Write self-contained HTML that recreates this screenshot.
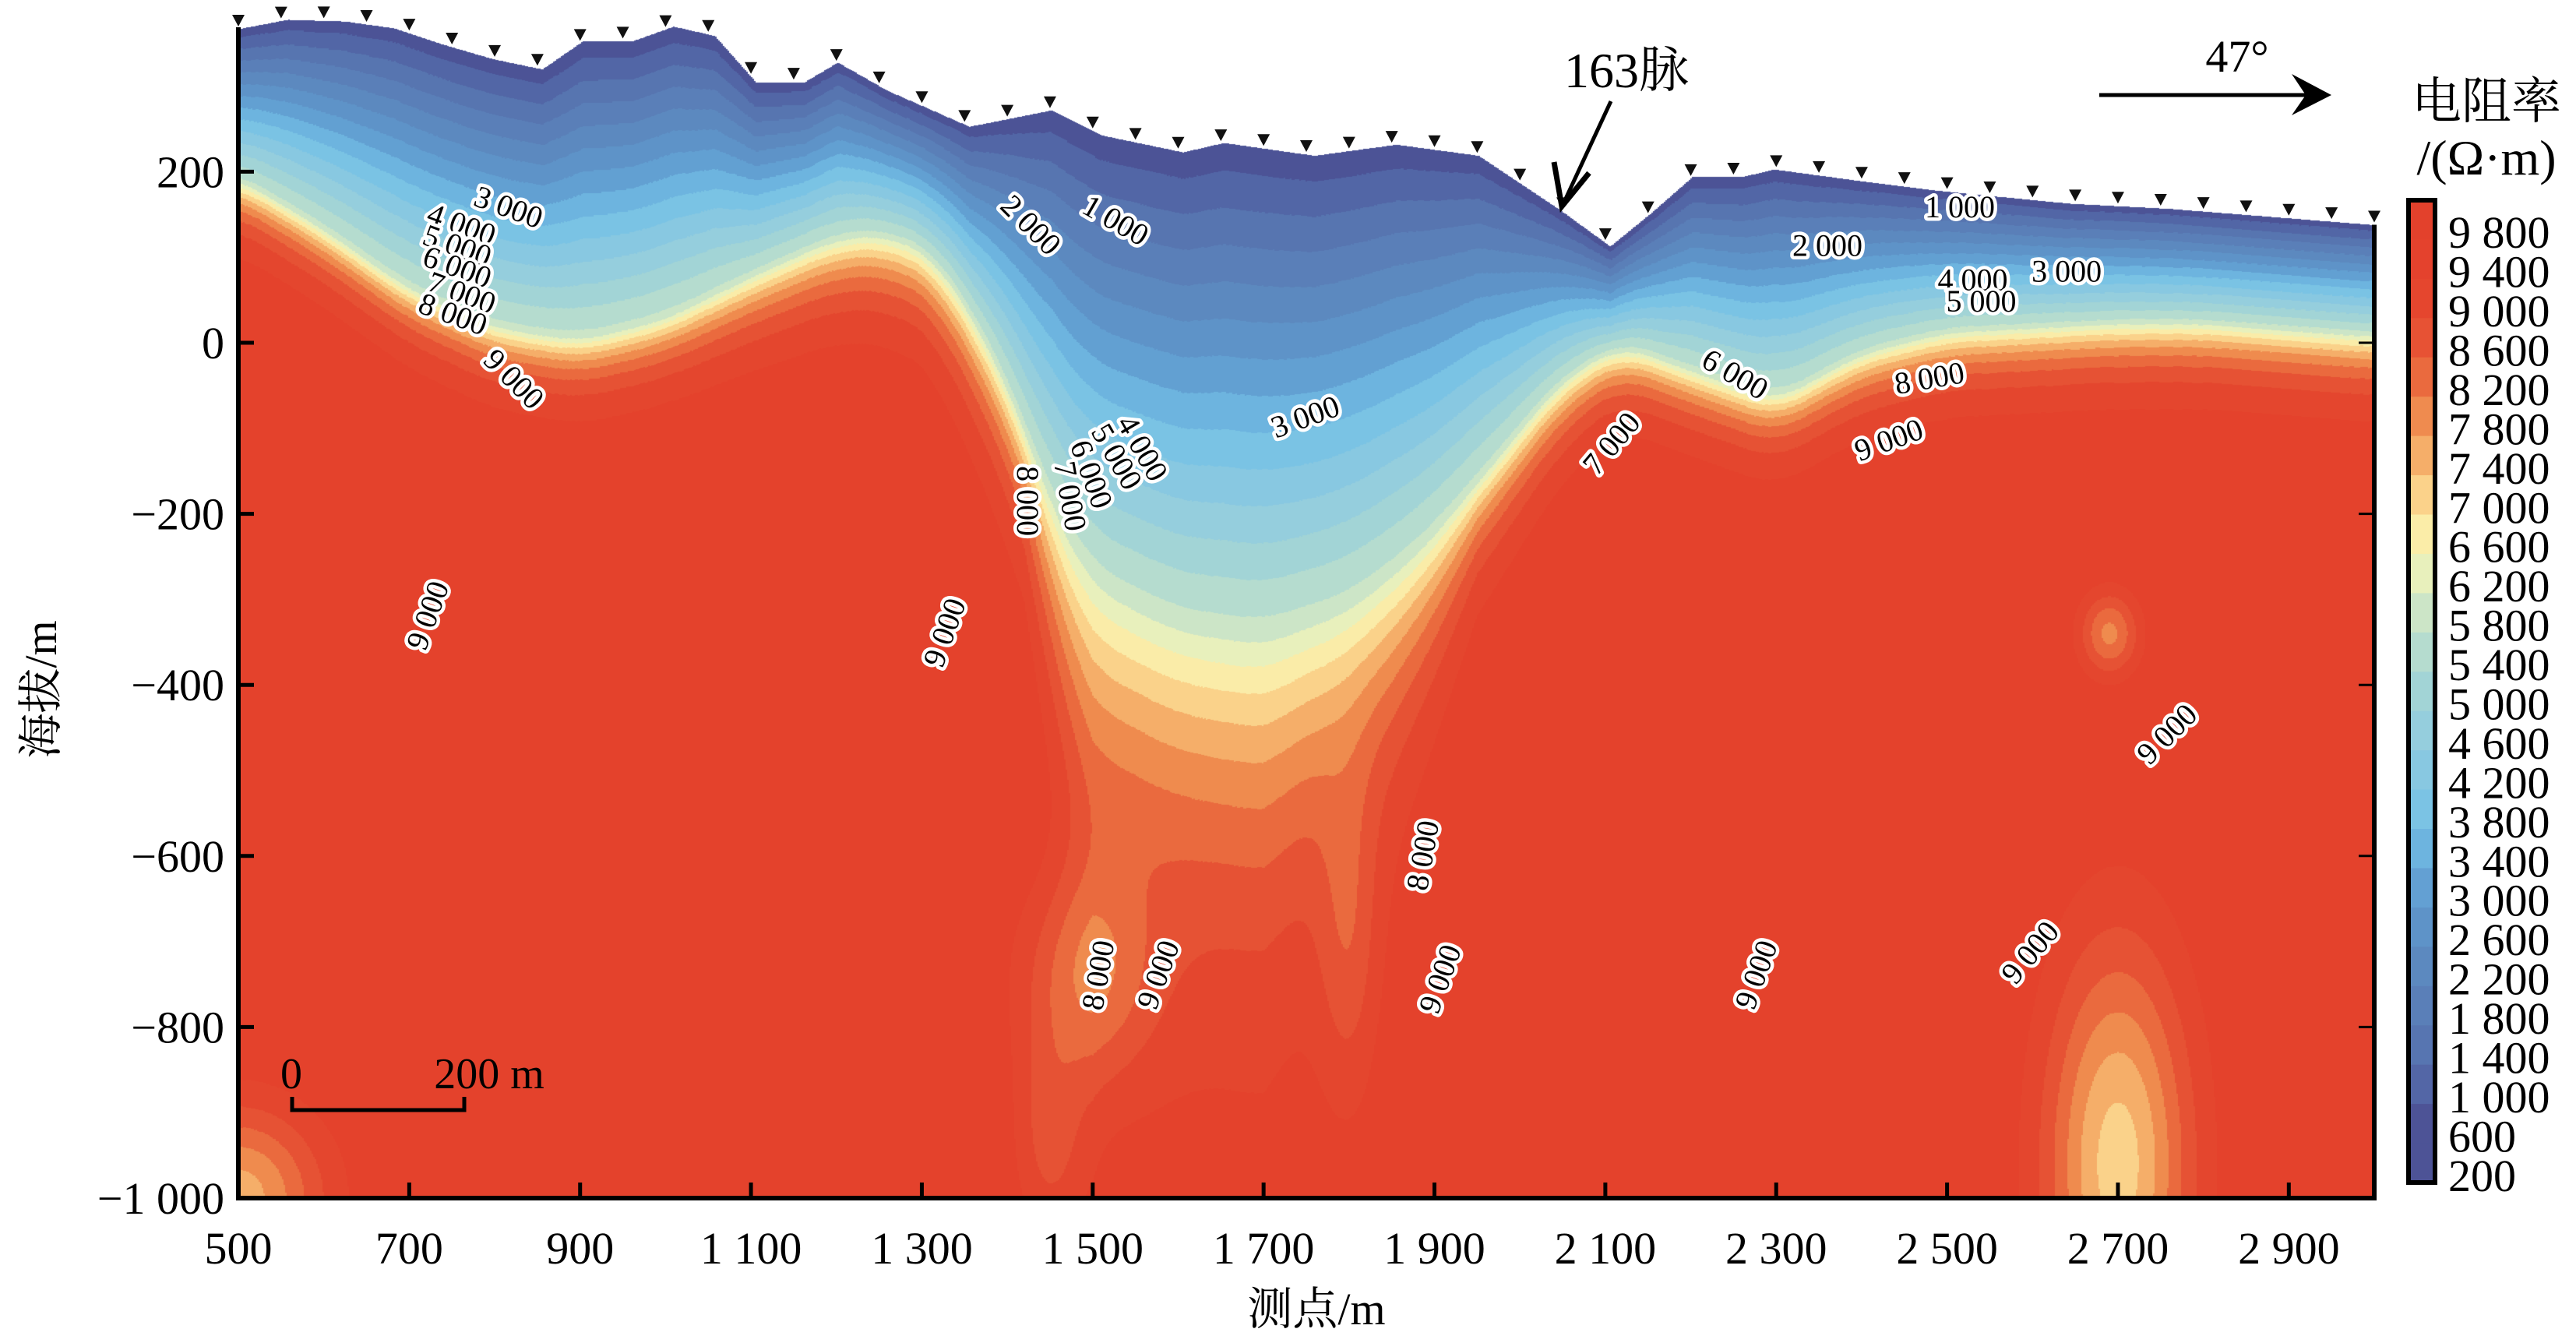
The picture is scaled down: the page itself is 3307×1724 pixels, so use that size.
<!DOCTYPE html>
<html><head><meta charset="utf-8">
<style>
html,body{margin:0;padding:0;background:#fff;}
#wrap{position:relative;width:3307px;height:1724px;overflow:hidden;background:#fff;}
canvas,svg{position:absolute;left:0;top:0;}
text{font-family:"Liberation Serif","Noto Serif CJK SC",serif;}
</style></head>
<body>
<div id="wrap">
<canvas id="cv" width="3307" height="1724"></canvas>
<svg id="sv" width="3307" height="1724" xmlns="http://www.w3.org/2000/svg"></svg>
</div>
<script>
// ---- data ----
const surfX = [500,558,625,683,740,798,856,904,962,1010,1058,1106,1163,1202,1260,1356,1452,1510,1606,1654,1760,1856,1952,2048,2106,2154,2202,2260,2298,2394,2490,2644,2760,3000];
const surfE = [367,378,376,368,349,332,320,353,353,370,359,305,305,328,295,253,272,243,223,234,219,232,219,155,113,152,194,194,203,190,178,163,157,138];
const bndX = [500,600,700,800,900,1000,1100,1200,1260,1320,1400,1450,1500,1600,1700,1800,1880,1950,2050,2120,2200,2300,2400,2500,2600,2700,2800,3000];
const bndE = [195,135,65,20,5,30,80,125,130,100,-40,-180,-270,-320,-335,-300,-240,-160,-40,0,-30,-65,-10,15,20,25,25,10];
const widX = [500,1000,1300,1420,1500,1700,1850,1950,2100,3000];
const widW = [40,45,60,90,230,240,150,70,45,45];
const blobX = [1490,2700,2690,500,1450,1800];
const blobE = [-740,-960,-340,-1000,-930,-700];
const blobA = [-1300,-2600,-1700,-2200,-900,-800];
const blobSX = [55,60,25,70,30,25];
const blobSY = [90,180,35,75,90,140];
const cbLabels = ["9 800","9 400","9 000","8 600","8 200","7 800","7 400","7 000","6 600","6 200","5 800","5 400","5 000","4 600","4 200","3 800","3 400","3 000","2 600","2 200","1 800","1 400","1 000","600","200"];
const xTicks = [500,700,900,1100,1300,1500,1700,1900,2100,2300,2500,2700,2900];
const xTickLabels = ["500","700","900","1 100","1 300","1 500","1 700","1 900","2 100","2 300","2 500","2 700","2 900"];
const yTicks = [200,0,-200,-400,-600,-800,-1000];
const yTickLabels = ["200","0","−200","−400","−600","−800","−1 000"];
const labTxt = ["3 000","4 000","5 000","6 000","7 000","8 000","9 000","2 000","1 000","4 000","5 000","6 000","7 000","8 000","3 000","9 000","9 000","8 000","8 000","9 000","9 000","9 000","9 000","9 000","9 000","7 000","6 000","8 000","1 000","2 000","4 000","3 000","5 000"];
const labX = [815,760,755,755,760,750,820,1425,1525,1555,1525,1495,1470,1420,1750,725,1330,1890,1510,1580,1910,2280,2600,2760,2433,2110,2250,2480,2515,2360,2530,2640,2540];
const labE = [155,135,110,85,55,30,-45,135,140,-125,-135,-155,-180,-185,-90,-320,-340,-600,-740,-740,-745,-740,-715,-460,-117,-120,-40,-45,155,110,70,80,45];
const labR = [20,20,20,20,20,20,45,45,30,60,60,70,80,90,-20,-70,-70,-80,-80,-70,-70,-70,-50,-45,-20,-50,30,-10,0,0,0,0,0];
const cmV = [200,600,1000,1800,2600,3000,3400,4200,5000,5800,6200,6600,7000,7400,7800,8200,8600,9000,9800];
const cmC = ["#4a4a8e","#4f5c9e","#5670ad","#5b84bb","#5f98cc","#66a8d9","#74c0e5","#8ecbe0","#a9d7d3","#d8eac3","#f8f5b5","#fde49a","#f8c079","#f29c59","#ec7a44","#e85a38","#e5492f","#e4432d","#e3402b"];

// ---- scales ----
const X = m => 306 + (m-500)*1.0968;
const Y = e => 440 - e*1.098;
const Minv = px => 500 + (px-306)/1.0968;
const Einv = py => (440-py)/1.098;
function interp(xs, ys, x){
  if(x<=xs[0]) return ys[0];
  for(let i=1;i<xs.length;i++){ if(x<=xs[i]){const t=(x-xs[i-1])/(xs[i]-xs[i-1]); return ys[i-1]+t*(ys[i]-ys[i-1]);} }
  return ys[ys.length-1];
}
function smooth(xs,ys,x){ let s=0,n=0; for(let d=-30;d<=30;d+=10){s+=interp(xs,ys,x+d);n++;} return s/n; }
function hex(c){return [parseInt(c.substr(1,2),16),parseInt(c.substr(3,2),16),parseInt(c.substr(5,2),16)];}
const cmRGB = cmC.map(hex);
function color(v){
  v = Math.max(200, Math.min(9800, v));
  v = Math.floor((v-200)/400)*400+400;
  for(let i=1;i<cmV.length;i++){ if(v<=cmV[i]){const t=(v-cmV[i-1])/(cmV[i]-cmV[i-1]); const a=cmRGB[i-1],b=cmRGB[i]; return [a[0]+t*(b[0]-a[0]),a[1]+t*(b[1]-a[1]),a[2]+t*(b[2]-a[2])];} }
  return cmRGB[cmRGB.length-1];
}
function field(m,e){
  const S = interp(surfX,surfE,m), B = smooth(bndX,bndE,m), W = interp(widX,widW,m);
  let v;
  if(e>=B){ let t=(e-B)/Math.max(20,S-B); t=Math.min(1,Math.max(0,t)); v = 5500 - 5200*Math.pow(t,1.0); }
  else { const d=B-e; v = 5500 + 3900*(1-Math.exp(-d/W)); }
  for(let i=0;i<blobX.length;i++){ const dx=(m-blobX[i])/blobSX[i], dy=(e-blobE[i])/blobSY[i]; v += blobA[i]*Math.exp(-0.5*(dx*dx+dy*dy)); }
  return v;
}
// ---- render field ----
const cv=document.getElementById('cv'), ctx=cv.getContext('2d');
const x0=306,x1=3048,y1=1538, st=2;
const img=ctx.createImageData(3307,1724);
for(let px=x0;px<x1;px+=st){
  const m=Minv(px+1), sy=Y(interp(surfX,surfE,m));
  for(let py=Math.floor(sy);py<y1;py+=st){
    const c=color(field(m,Einv(py+1)));
    for(let a=0;a<st;a++)for(let b=0;b<st;b++){const yy=py+b; if(yy<sy||yy>=y1)continue; const k=((yy)*3307+px+a)*4; img.data[k]=c[0];img.data[k+1]=c[1];img.data[k+2]=c[2];img.data[k+3]=255;}
  }
}
ctx.putImageData(img,0,0);

// ---- SVG overlay ----
const NS="http://www.w3.org/2000/svg", sv=document.getElementById('sv');
function el(tag,attrs,parent){const e=document.createElementNS(NS,tag); for(const k in attrs)e.setAttribute(k,attrs[k]); (parent||sv).appendChild(e); return e;}
// electrodes
for(let m=500;m<=3000;m+=50){
  const px=X(m), py=Y(interp(surfX,surfE,m));
  const t=el('polygon',{points:`${px-8},${py-18} ${px+8},${py-18} ${px},${py-3}`,fill:'#111'});
  
  
}
// axes
const ax=el('g',{stroke:'#000','stroke-width':6,fill:'none'});


el('line',{x1:X(500),y1:Y(367)-2,x2:X(500),y2:y1+3},ax);
el('line',{x1:X(3000),y1:Y(138),x2:X(3000),y2:y1+3},ax);
el('line',{x1:X(500)-3,y1:y1,x2:X(3000)+3,y2:y1},ax);
xTicks.forEach((v,i)=>{
  el('line',{x1:X(v),y1:y1,x2:X(v),y2:y1-20,'stroke-width':5},ax);
  const t=el('text',{x:X(v),y:1622,'font-size':58,'text-anchor':'middle'});
  t.textContent=xTickLabels[i];
  
  
});
yTicks.forEach((v,i)=>{
  el('line',{x1:X(500),y1:Y(v),x2:X(500)+20,y2:Y(v),'stroke-width':5},ax);
  if(v<=138) el('line',{x1:X(3000),y1:Y(v),x2:X(3000)-20,y2:Y(v),'stroke-width':3},ax);
  const t=el('text',{x:288,y:Y(v)+20,'font-size':58,'text-anchor':'end'});
  t.textContent=yTickLabels[i];
  
  
});
// contour labels
labTxt.forEach((s,i)=>{
  const t=el('text',{x:X(labX[i]),y:Y(labE[i]),'font-size':40,'text-anchor':'middle','dominant-baseline':'middle',fill:'#000',stroke:'#fff','stroke-width':9,'paint-order':'stroke','stroke-linejoin':'round',transform:`rotate(${labR[i]} ${X(labX[i])} ${Y(labE[i])})`});
  t.textContent=s;
  
  
});
// colorbar
const cbTop=257, cbBot=1518, cbH=(cbBot-cbTop)/25;
const cb=el('g',{});


for(let i=0;i<25;i++){
  const v=9800-i*400; const c=color(v-200);
  el('rect',{x:3092,y:cbTop+i*cbH,width:34,height:cbH+1,fill:`rgb(${c.map(Math.round).join(',')})`},cb);
  const t=el('text',{x:3143,y:cbTop+i*cbH+cbH/2+36,'font-size':58},cb);
  t.textContent=cbLabels[i];
  
  
}
el('rect',{x:3092,y:cbTop,width:34,height:cbBot-cbTop,fill:'none',stroke:'#000','stroke-width':6},cb);
</script>
<svg width="3307" height="1724" style="position:absolute;left:0;top:0" xmlns="http://www.w3.org/2000/svg">
<text x="3192" y="152" font-size="64" text-anchor="middle" style="font-family:'Liberation Serif','Noto Serif CJK SC',serif">电阻率</text>
<text x="3192" y="224" font-size="64" text-anchor="middle">/(Ω·m)</text>
<text x="1690" y="1700" font-size="58" text-anchor="middle" style="font-family:'Liberation Serif','Noto Serif CJK SC',serif">测点/m</text>
<text x="0" y="0" font-size="58" text-anchor="middle" transform="translate(72 885) rotate(-90)" style="font-family:'Liberation Serif','Noto Serif CJK SC',serif">海拔/m</text>
<g>
<text x="2088" y="112" font-size="64" text-anchor="middle" style="font-family:'Liberation Serif','Noto Serif CJK SC',serif">163脉</text>
<line x1="2068" y1="130" x2="2010" y2="255" stroke="#000" stroke-width="5"/>
<polyline points="1995,208 2005,265 2040,222" fill="none" stroke="#000" stroke-width="7"/>
</g>
<g>
<text x="2872" y="92" font-size="58" text-anchor="middle">47°</text>
<line x1="2695" y1="122" x2="2985" y2="122" stroke="#000" stroke-width="5"/>
<polygon points="2942,95 2993,122 2942,148 2960,122" fill="#000"/>
</g>
<g>
<text x="374" y="1397" font-size="56" text-anchor="middle">0</text>
<text x="628" y="1397" font-size="56" text-anchor="middle">200 m</text>
<polyline points="375,1408 375,1425 596,1425 596,1408" fill="none" stroke="#000" stroke-width="5"/>
</g>
</svg>
</body></html>
